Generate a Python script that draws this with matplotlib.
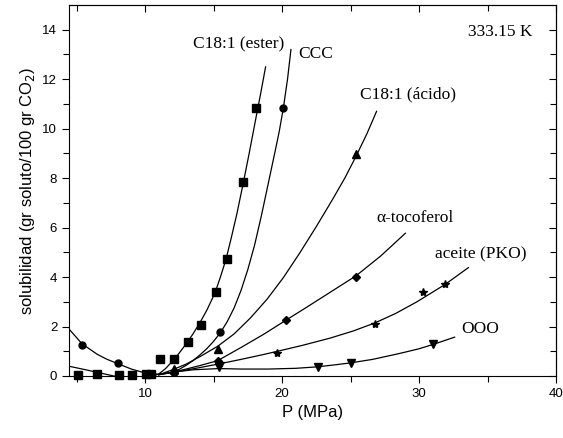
import numpy as np
import matplotlib
matplotlib.use("Agg")
import matplotlib.pyplot as plt

# measured points (P in MPa, solubility)
ester_p = [5.1, 6.5, 8.1, 9.05, 10.05, 10.4, 11.1, 12.1, 13.1, 14.1, 15.15, 15.95, 17.15, 18.1]
ester_s = [0.05, 0.06, 0.04, 0.05, 0.06, 0.08, 0.68, 0.68, 1.37, 2.06, 3.39, 4.72, 7.86, 10.85]
ccc_p = [5.4, 8.0, 12.1, 15.5, 20.1]
ccc_s = [1.25, 0.53, 0.15, 1.77, 10.85]
acido_p = [12.1, 15.3, 25.4]
acido_s = [0.28, 1.09, 8.97]
toco_p = [12.1, 15.3, 20.3, 25.4]
toco_s = [0.12, 0.6, 2.26, 4.02]
pko_p = [12.1, 15.5, 19.6, 26.8, 30.3, 31.9]
pko_s = [0.1, 0.52, 0.93, 2.1, 3.4, 3.72]
ooo_p = [15.4, 22.6, 25.0, 31.0]
ooo_s = [0.36, 0.37, 0.53, 1.28]

# fitted curves
ester_cp = [4.4, 5.5, 6.5, 7.7, 9.0, 10.0, 10.5, 11.0, 11.5, 12.0, 12.5, 13.0, 13.5, 14.0, 14.5,
            15.1, 15.5, 15.9, 16.3, 16.7, 17.15, 17.6, 18.1, 18.45, 18.8]
ester_cs = [0.4, 0.27, 0.15, 0.0, -0.1, -0.08, -0.02, 0.08, 0.3, 0.6, 0.93, 1.3, 1.7, 2.15, 2.65,
            3.35, 4.0, 4.7, 5.6, 6.55, 7.75, 9.0, 10.45, 11.45, 12.5]
ccc_cp = [4.4, 5.4, 6.5, 7.2, 8.0, 9.0, 10.0, 11.0, 12.0, 12.5, 13.0, 13.5, 14.0, 14.5, 15.0,
          15.5, 16.0, 16.5, 17.0, 17.5, 18.0, 18.5, 19.0, 19.5, 19.8, 20.1, 20.4, 20.65]
ccc_cs = [1.93, 1.3, 0.88, 0.68, 0.5, 0.28, 0.12, 0.07, 0.15, 0.27, 0.43, 0.62, 0.85, 1.1, 1.4,
          1.75, 2.2, 2.75, 3.45, 4.3, 5.3, 6.5, 7.8, 9.1, 9.9, 10.85, 12.0, 13.2]
acido_cp = [11.0, 12.0, 13.0, 14.0, 15.3, 16.5, 17.7, 18.9, 20.1, 21.3, 22.5, 23.7, 24.6, 25.4, 26.2, 26.9]
acido_cs = [0.05, 0.25, 0.48, 0.78, 1.2, 1.7, 2.35, 3.1, 3.98, 4.98, 6.04, 7.15, 8.02, 8.88, 9.8, 10.7]
toco_cp = [11.0, 12.0, 13.0, 14.0, 15.3, 17.0, 18.7, 20.3, 21.8, 23.5, 25.4, 27.2, 29.0]
toco_cs = [0.05, 0.15, 0.28, 0.42, 0.62, 1.15, 1.7, 2.26, 2.78, 3.38, 4.05, 4.85, 5.77]
pko_cp = [11.0, 12.0, 13.0, 14.0, 15.5, 17.0, 18.5, 19.6, 21.5, 23.5, 25.2, 26.8, 28.3, 29.85, 31.9, 33.6]
pko_cs = [0.05, 0.14, 0.24, 0.34, 0.5, 0.67, 0.85, 0.99, 1.24, 1.53, 1.82, 2.15, 2.53, 3.0, 3.7, 4.38]
ooo_cp = [12.0, 13.5, 15.4, 17.0, 19.0, 21.0, 22.6, 24.0, 25.0, 26.6, 28.5, 30.0, 31.0, 32.6]
ooo_cs = [0.15, 0.25, 0.3, 0.28, 0.28, 0.31, 0.37, 0.46, 0.53, 0.67, 0.9, 1.1, 1.27, 1.57]

fig = plt.figure(figsize=(5.63, 4.38), dpi=100)
ax = fig.add_axes([0.1226, 0.1416, 0.865, 0.847])

lw = 0.9
for cp, cs in [(ester_cp, ester_cs), (ccc_cp, ccc_cs), (acido_cp, acido_cs),
               (toco_cp, toco_cs), (pko_cp, pko_cs), (ooo_cp, ooo_cs)]:
    ax.plot(cp, cs, color='black', lw=lw, solid_joinstyle='round')

ax.plot(ester_p, ester_s, 's', color='black', ms=5.5, clip_on=False)
ax.plot(ccc_p, ccc_s, 'o', color='black', ms=5)
ax.plot(acido_p, acido_s, '^', color='black', ms=5.5)
ax.plot(toco_p, toco_s, 'D', color='black', ms=4.5)
ax.plot(pko_p, pko_s, '*', color='black', ms=6)
ax.plot(ooo_p, ooo_s, 'v', color='black', ms=5.5)

ax.set_xlim(4.45, 40)
ax.set_ylim(0, 15)
ax.set_xticks([10, 20, 30, 40])
ax.set_xticks([5, 15, 25, 35], minor=True)
ax.set_yticks(np.arange(0, 15, 2))
ax.set_yticks(np.arange(1, 15, 2), minor=True)
ax.tick_params(which='both', direction='out', labelsize=9.5, width=0.8)
ax.tick_params(which='major', length=5)
ax.tick_params(which='minor', length=4)

# mirrored ticks pointing inwards on top and right
top = ax.secondary_xaxis('top')
top.set_xticks([10, 20, 30, 40])
top.set_xticks([5, 15, 25, 35], minor=True)
top.tick_params(which='both', direction='in', labeltop=False, width=0.8)
top.tick_params(which='major', length=5)
top.tick_params(which='minor', length=4)
right = ax.secondary_yaxis('right')
right.set_yticks(np.arange(0, 15, 2))
right.set_yticks(np.arange(1, 15, 2), minor=True)
right.tick_params(which='both', direction='in', labelright=False, width=0.8)
right.tick_params(which='major', length=5)
right.tick_params(which='minor', length=4)

ax.set_xlabel('P (MPa)', fontsize=12, family='Liberation Sans')
ax.set_ylabel('solubilidad (gr soluto/100 gr CO$_2$)', fontsize=12, family='Liberation Sans')
for lab in ax.get_xticklabels() + ax.get_yticklabels():
    lab.set_family('Liberation Sans')

serif = dict(fontsize=12.5, family='Liberation Serif')
ax.text(16.8, 13.4, 'C18:1 (ester)', ha='center', va='center', **serif)
ax.text(21.15, 13.0, 'CCC', ha='left', va='center', **serif)
ax.text(25.7, 11.4, 'C18:1 (ácido)', ha='left', va='center', **serif)
ax.text(38.25, 13.9, '333.15 K', ha='right', va='center', **serif)
ax.text(26.85, 6.4, 'α-tocoferol', ha='left', va='center', **serif)
ax.text(31.2, 4.9, 'aceite (PKO)', ha='left', va='center', **serif)
ax.text(33.1, 1.9, 'OOO', ha='left', va='center', **serif)

fig.savefig('out.png', dpi=100)
